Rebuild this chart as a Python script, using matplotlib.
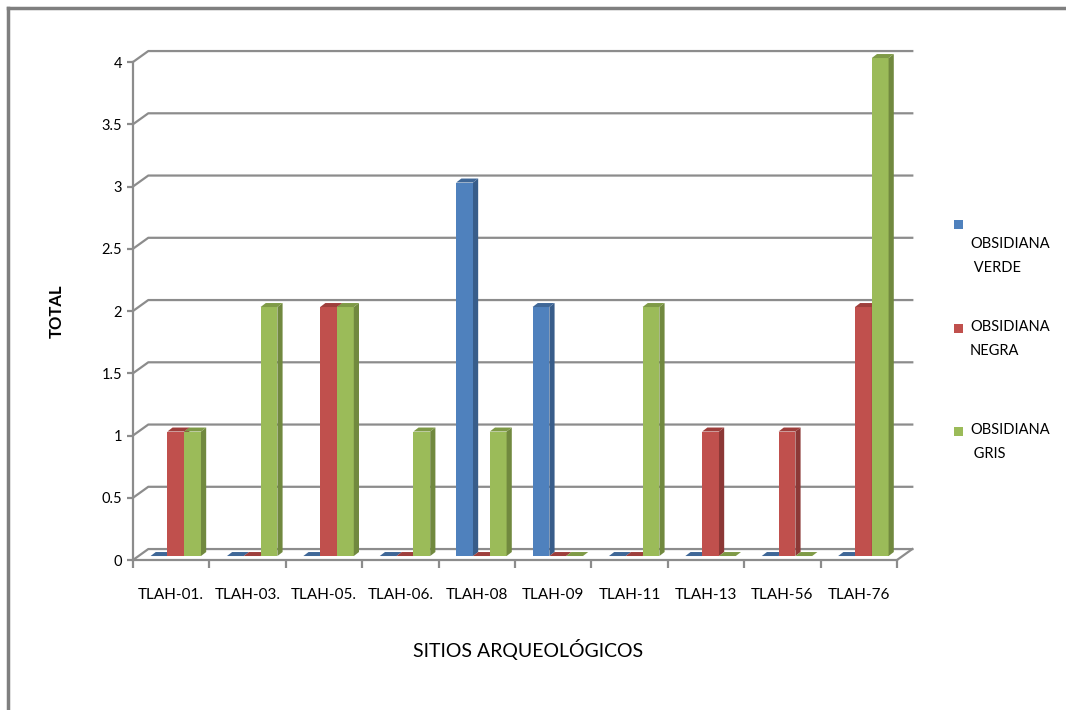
import matplotlib
matplotlib.use("Agg")
import matplotlib.pyplot as plt
from matplotlib.patches import Polygon, Rectangle
from matplotlib.lines import Line2D

plt.rcParams['font.family'] = ['Lato', 'DejaVu Sans']

sitios = ['TLAH-01.', 'TLAH-03.', 'TLAH-05.', 'TLAH-06.', 'TLAH-08',
          'TLAH-09', 'TLAH-11', 'TLAH-13', 'TLAH-56', 'TLAH-76']
verde = [0, 0, 0, 0, 3, 2, 0, 0, 0, 0]
negra = [1, 0, 2, 0, 0, 0, 0, 1, 1, 2]
gris = [1, 2, 2, 1, 1, 0, 2, 0, 0, 4]
series = ['OBSIDIANA\n VERDE', 'OBSIDIANA\nNEGRA', 'OBSIDIANA\n GRIS']

# front / side / top shades, Excel 2007 palette
shades = [('#4F81BD', '#385D8A', '#3F6797'),
          ('#C0504D', '#8C3836', '#9E3F3C'),
          ('#9BBB59', '#71893F', '#7F9A47')]

fig = plt.figure(figsize=(10.66, 7.10), dpi=100)
ax = fig.add_axes([133 / 1066, 150 / 710, 764 / 1066, 498 / 710])
ax.set_xlim(-0.5, 9.5)
ax.set_ylim(0, 4)

# depth of the back wall and of the bar row, in data units
DX, DY = 0.2, 0.088
BX, BY = 0.06, 0.032
SX, SY = 0.068, 0.032
W = 0.22

grid_c = '#8C8C8C'
yvals = [i * 0.5 for i in range(9)]
for v in yvals:
    ax.add_line(Line2D([-0.5, -0.5 + DX, 9.5 + DX], [v, v + DY, v + DY],
                       color=grid_c, lw=1.6, clip_on=False, zorder=1))
# floor
ax.add_line(Line2D([9.5, 9.5 + DX], [0, DY], color=grid_c, lw=1.6,
                   clip_on=False, zorder=1))
ax.add_patch(Polygon([(-0.5, 0), (9.5, 0), (9.5 + DX, DY), (-0.5 + DX, DY)],
                     closed=True, fc='white', ec='none', zorder=0.5, clip_on=False))

for i in range(len(sitios)):
    for k, vals in enumerate([verde, negra, gris]):
        front, side, top = shades[k]
        x0 = i + BX + (k - 1.5) * W
        v = vals[i]
        z = 3 + i + k * 0.1
        ax.bar(x0, v, width=W, bottom=BY, align='edge', color=front,
               zorder=z, clip_on=False)
        ax.add_patch(Polygon([(x0 + W, BY), (x0 + W + SX, BY + SY),
                              (x0 + W + SX, BY + v + SY), (x0 + W, BY + v)],
                             closed=True, fc=side, ec='none', zorder=z, clip_on=False))
        ax.add_patch(Polygon([(x0, BY + v), (x0 + SX, BY + v + SY),
                              (x0 + W + SX, BY + v + SY), (x0 + W, BY + v)],
                             closed=True, fc=top, ec='none', zorder=z, clip_on=False))

for s in ['top', 'right']:
    ax.spines[s].set_visible(False)
for s in ['left', 'bottom']:
    ax.spines[s].set_color(grid_c)
    ax.spines[s].set_linewidth(1.6)
    ax.spines[s].set_zorder(2)

ax.set_yticks(yvals)
ax.set_yticklabels(['0', '0.5', '1', '1.5', '2', '2.5', '3', '3.5', '4'])
ax.tick_params(axis='y', length=4, width=1.6, color=grid_c, pad=4,
               labelsize=10.5)
ax.set_xticks([i - 0.5 for i in range(11)])
ax.set_xticklabels([])
ax.set_xticks(range(len(sitios)), minor=True)
ax.set_xticklabels(sitios, minor=True)
ax.tick_params(axis='x', which='major', length=6, width=1.6, color=grid_c)
ax.tick_params(axis='x', which='minor', length=0, pad=20, labelsize=11)

ax.set_ylabel('TOTAL', fontsize=12, fontweight='bold', labelpad=26)
fig.text(528 / 1066, 1 - 650 / 710, 'SITIOS ARQUEOLÓGICOS', fontsize=14,
         ha='center', va='center')

# legend
leg_y = [224, 328, 431]
for k, (name, y) in enumerate(zip(series, leg_y)):
    fig.patches.append(Rectangle((954 / 1066, 1 - (y + 5) / 710), 9 / 1066, 9 / 710,
                                 transform=fig.transFigure, fc=shades[k][0],
                                 ec='none'))
    ty = 256 if k == 0 else y + 11
    fig.text(970 / 1066, 1 - ty / 710, name, fontsize=10.5, va='center',
             ha='left', linespacing=1.9)

# outer frame
fig.add_artist(Line2D([8 / 1066, 1.0], [1 - 8 / 710, 1 - 8 / 710],
                      transform=fig.transFigure, color='#7F7F7F', lw=2.5))
fig.add_artist(Line2D([8 / 1066, 8 / 1066], [0, 1 - 8 / 710],
                      transform=fig.transFigure, color='#7F7F7F', lw=2.5))

fig.savefig('out.png', dpi=100)
